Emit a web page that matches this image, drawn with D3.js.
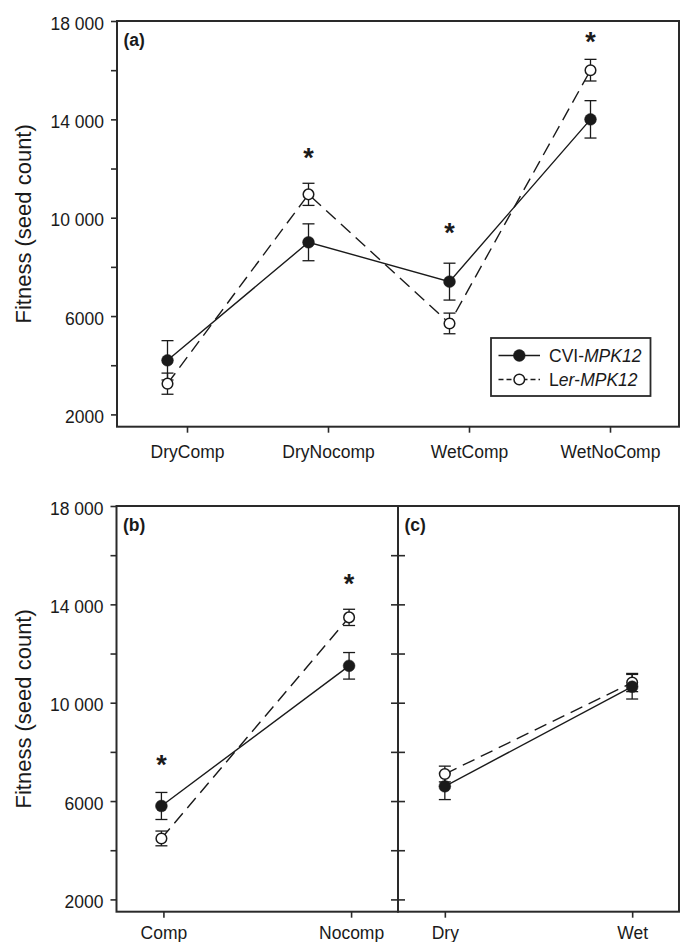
<!DOCTYPE html>
<html>
<head>
<meta charset="utf-8">
<script src="https://cdn.jsdelivr.net/npm/d3@7"></script>
<style>
  body { margin: 0; background: #fff; }
  svg { display: block; font-family: "Liberation Sans", Arial, sans-serif; }
</style>
</head>
<body>
<svg id="chart" width="680" height="942"></svg>
<script>
// panel (a): treatment combinations
const treatments = ["DryComp", "DryNocomp", "WetComp", "WetNoComp"];
const cviA = [4200, 9000, 7400, 14000];
const cviAErr = [800, 750, 750, 760];
const lerA = [3250, 10950, 5700, 16000];
const lerAErr = [430, 450, 420, 440];
const starsA = [["DryNocomp", 12680], ["WetComp", 9630], ["WetNoComp", 17430]];

// panel (b): competition
const competition = ["Comp", "Nocomp"];
const cviB = [5800, 11500];
const cviBErr = [550, 540];
const lerB = [4480, 13470];
const lerBErr = [300, 330];
const starsB = [["Comp", 7735], ["Nocomp", 15080]];

// panel (c): water
const water = ["Dry", "Wet"];
const cviC = [6600, 10650];
const cviCErr = [540, 500];
const lerC = [7100, 10820];
const lerCErr = [320, 370];
const starsC = [];

const yTicks = [2000, 4000, 6000, 8000, 10000, 12000, 14000, 16000, 18000];
const yLabelled = [2000, 6000, 10000, 14000, 18000];
const yDomain = [1500, 18000];

const svg = d3.select("#chart");
const ink = "#1a1a1a";
const fontSize = 17.5;

const fmtY = d => yLabelled.includes(d)
  ? (d >= 10000 ? d3.format(",")(d).replace(",", " ") : String(d))
  : "";

function panel(o) {
  const y = d3.scaleLinear().domain(yDomain).range([o.bottom, o.top]);
  let x;
  if (o.band) {
    x = d3.scaleBand().domain(o.cats).range([o.left, o.right + 2]);
  } else {
    x = d3.scalePoint().domain(o.cats).range([o.left, o.right]).padding(0.25);
  }
  const cx = c => x(c) + (o.band ? x.bandwidth() / 2 : 0);
  const px = c => cx(c) + o.shift;

  const g = svg.append("g");

  // frame
  g.append("rect")
    .attr("x", o.left).attr("y", o.top)
    .attr("width", o.right - o.left).attr("height", o.bottom - o.top)
    .attr("fill", "none").attr("stroke", "#2a2a2a").attr("stroke-width", 2);

  // y axis
  const ya = g.append("g")
    .attr("transform", `translate(${o.left},0)`)
    .call(d3.axisLeft(y).tickValues(o.labels ? yTicks : yTicks.slice(0, -1))
      .tickSize(6).tickPadding(7).tickFormat(o.labels ? fmtY : ""));
  ya.select(".domain").remove();
  ya.selectAll("line").attr("stroke", "#2a2a2a").attr("stroke-width", 1.6);
  if (!o.labels) ya.selectAll("line").attr("x1", 7).attr("x2", -7);
  ya.selectAll("text").attr("font-size", fontSize).attr("fill", ink)
    .attr("font-family", "Liberation Sans, Arial, sans-serif").attr("dy", "0.47em");

  // x axis
  const xa = g.append("g")
    .attr("transform", `translate(0,${o.bottom})`)
    .call(d3.axisBottom(x).tickSize(6).tickPadding(o.xPad));
  xa.select(".domain").remove();
  xa.selectAll("line").attr("stroke", "#2a2a2a").attr("stroke-width", 1.6);
  xa.selectAll("text").attr("font-size", fontSize).attr("fill", ink)
    .attr("font-family", "Liberation Sans, Arial, sans-serif").attr("dy", "0.95em");

  // y title
  if (o.labels) {
    g.append("text")
      .attr("transform", `translate(31,${(o.top + o.bottom) / 2}) rotate(-90)`)
      .attr("text-anchor", "middle").attr("font-size", 22).attr("fill", ink)
      .text("Fitness (seed count)");
  }

  // panel letter
  g.append("text")
    .attr("x", o.left + 6.5).attr("y", o.top + 24.5)
    .attr("font-size", fontSize).attr("font-weight", "bold").attr("fill", ink)
    .text(o.tag);

  const series = [
    {vals: o.ler, errs: o.lerErr, open: true},
    {vals: o.cvi, errs: o.cviErr, open: false}
  ];

  const line = d3.line().x(d => px(d.c)).y(d => y(d.v));
  series.forEach(s => {
    const pts = o.cats.map((c, i) => ({c, v: s.vals[i], e: s.errs[i]}));
    g.append("path").datum(pts)
      .attr("d", line).attr("fill", "none").attr("stroke", ink)
      .attr("stroke-width", 1.4)
      .attr("stroke-dasharray", s.open ? "13,7" : null);
  });

  series.forEach(s => {
    const pts = o.cats.map((c, i) => ({c, v: s.vals[i], e: s.errs[i]}));
    const eb = g.append("g").selectAll("g").data(pts).join("g")
      .attr("stroke", ink).attr("stroke-width", 1.3);
    eb.append("line")
      .attr("x1", d => px(d.c)).attr("x2", d => px(d.c))
      .attr("y1", d => y(d.v - d.e)).attr("y2", d => y(d.v + d.e));
    eb.append("line")
      .attr("x1", d => px(d.c) - 6).attr("x2", d => px(d.c) + 6)
      .attr("y1", d => y(d.v + d.e)).attr("y2", d => y(d.v + d.e));
    eb.append("line")
      .attr("x1", d => px(d.c) - 6).attr("x2", d => px(d.c) + 6)
      .attr("y1", d => y(d.v - d.e)).attr("y2", d => y(d.v - d.e));
  });

  series.forEach(s => {
    const pts = o.cats.map((c, i) => ({c, v: s.vals[i]}));
    g.append("g").selectAll("circle").data(pts).join("circle")
      .attr("cx", d => px(d.c)).attr("cy", d => y(d.v))
      .attr("r", s.open ? 5.3 : 5.9)
      .attr("fill", s.open ? "#fff" : ink)
      .attr("stroke", ink).attr("stroke-width", s.open ? 1.5 : 0.5);
  });

  // significance asterisks
  g.append("g").selectAll("text").data(o.stars).join("text")
    .attr("x", d => px(d[0])).attr("y", d => y(d[1]))
    .attr("dy", "0.58em")
    .attr("text-anchor", "middle").attr("font-size", 27).attr("font-weight", "bold")
    .attr("fill", ink).text("*");

  return {x: px, y};
}

panel({tag: "(a)", cats: treatments, band: true, shift: -20, labels: true, xPad: 9,
  left: 117, right: 679, top: 21, bottom: 426.7,
  cvi: cviA, cviErr: cviAErr, ler: lerA, lerErr: lerAErr, stars: starsA});

panel({tag: "(b)", cats: competition, band: false, shift: -2, labels: true, xPad: 5,
  left: 116.5, right: 398, top: 506, bottom: 911.7,
  cvi: cviB, cviErr: cviBErr, ler: lerB, lerErr: lerBErr, stars: starsB});

panel({tag: "(c)", cats: water, band: false, shift: 0, labels: false, xPad: 5,
  left: 398, right: 679, top: 506, bottom: 911.7,
  cvi: cviC, cviErr: cviCErr, ler: lerC, lerErr: lerCErr, stars: starsC});

// legend for panel (a)
const legend = svg.append("g").attr("transform", "translate(491,338)");
legend.append("rect").attr("width", 159.5).attr("height", 58)
  .attr("fill", "#fff").attr("stroke", "#2a2a2a").attr("stroke-width", 1.8);
const legendItems = [
  {plain: "CVI-", ital: "MPK12", open: false},
  {plain: "L", ital: "er", rest: "-", ital2: "MPK12", open: true}
];
const row = legend.selectAll("g").data(legendItems).join("g")
  .attr("transform", (d, i) => `translate(0,${17.5 + i * 24})`);
row.append("line").attr("x1", 7.5).attr("x2", 49)
  .attr("stroke", ink).attr("stroke-width", 1.4)
  .attr("stroke-dasharray", d => d.open ? "5,3" : null);
row.append("circle").attr("cx", 28.3).attr("r", d => d.open ? 5.3 : 5.9)
  .attr("fill", d => d.open ? "#fff" : ink)
  .attr("stroke", ink).attr("stroke-width", d => d.open ? 1.5 : 0.5);
const lt = row.append("text").attr("x", 58).attr("dy", "0.36em")
  .attr("font-size", fontSize).attr("fill", ink);
lt.append("tspan").text(d => d.plain);
lt.append("tspan").attr("font-style", "italic").text(d => d.ital);
lt.filter(d => d.rest).append("tspan").text(d => d.rest);
lt.filter(d => d.ital2).append("tspan").attr("font-style", "italic").text(d => d.ital2);
</script>
</body>
</html>
